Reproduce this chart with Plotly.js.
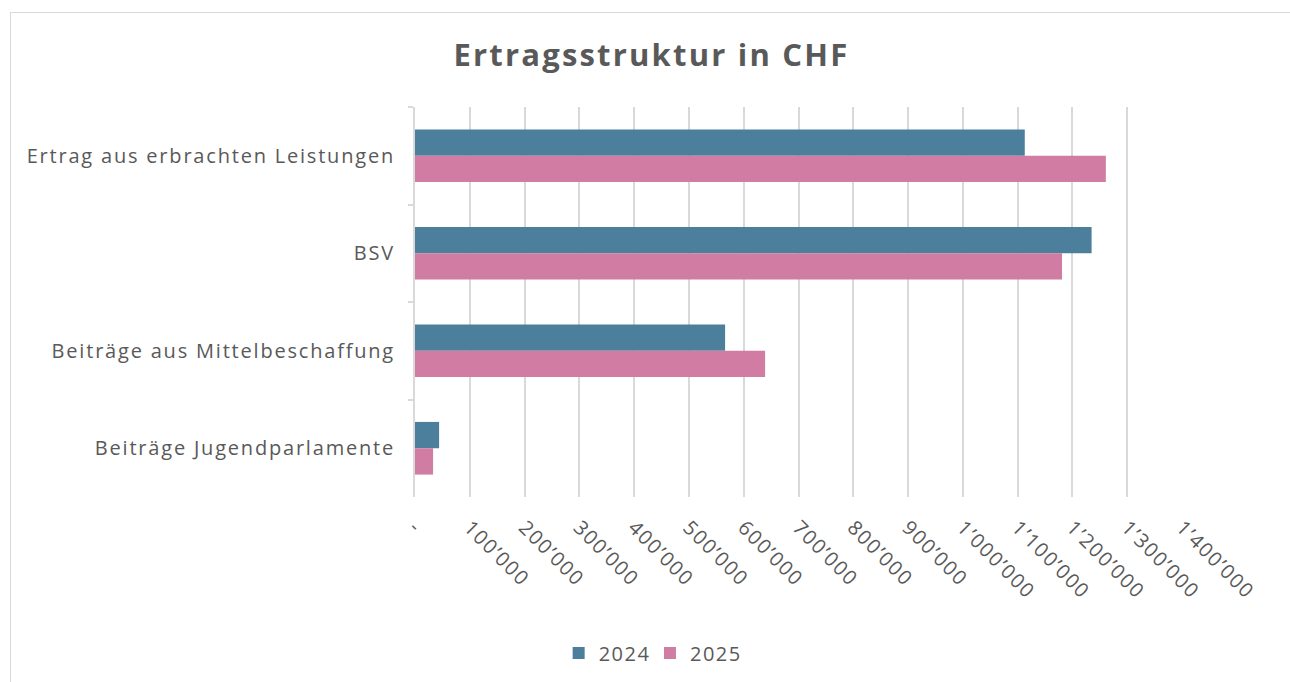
<!DOCTYPE html>
<html>
<head>
<meta charset="utf-8">
<script src="https://cdn.plot.ly/plotly-3.0.1.min.js"></script>
<style>
  html, body { margin:0; padding:0; background:#fff; }
  #chart { width:1290px; height:682px; position:absolute; left:0; top:0; }
  #frame { position:absolute; left:10px; top:12px; width:1290px; height:680px; border:1.5px solid #d9d9d9; pointer-events:none; }
  #chart .ytick text { letter-spacing:1.8px; }
  #chart .xtick text { letter-spacing:1.5px; }
  #chart .legendtext { letter-spacing:1.5px; }
  #chart .gtitle { letter-spacing:2.2px; }
</style>
</head>
<body>
<div id="chart"></div>
<div id="frame"></div>
<script>
const categories = ["Ertrag aus erbrachten Leistungen", "BSV", "Beiträge aus Mittelbeschaffung", "Beiträge Jugendparlamente"];
const series2024 = [1113000, 1235000, 566000, 44000];
const series2025 = [1261000, 1181000, 639000, 33000];
const tickValues = [0,100000,200000,300000,400000,500000,600000,700000,800000,900000,1000000,1100000,1200000,1300000,1400000];
const tickLabels = ["-","100’000","200’000","300’000","400’000","500’000","600’000","700’000","800’000","900’000","1’000’000","1’100’000","1’200’000","1’300’000","1’400’000"];

const fontFam = "'Open Sans', Lato, sans-serif";
const textCol = "#595959";

const traces = [
  {type:"bar", orientation:"h", name:"2024", y:categories, x:series2024,
   marker:{color:"#4b7f9c"}, hoverinfo:"x+name"},
  {type:"bar", orientation:"h", name:"2025", y:categories, x:series2025,
   marker:{color:"#d07ca3"}, hoverinfo:"x+name"}
];

const layout = {
  width:1290, height:682,
  paper_bgcolor:"rgba(0,0,0,0)", plot_bgcolor:"#fff",
  margin:{l:415, r:108, t:107, b:185},
  barmode:"group", bargap:0.46, bargroupgap:0,
  title:{text:"<b>Ertragsstruktur in CHF</b>", font:{family:fontFam, size:31, color:textCol},
         x:0.505, xref:"container", xanchor:"center", y:0.919, yref:"container", yanchor:"middle"},
  xaxis:{range:[0,1400000], tickvals:tickValues, ticktext:tickLabels, tickangle:45,
         showgrid:true, gridcolor:"#d9d9d9", gridwidth:2, zeroline:false, showline:false,
         ticks:"", tickfont:{family:fontFam, size:20, color:textCol}, ticklabelstandoff:14},
  yaxis:{autorange:"reversed", showline:true, linecolor:"#d9d9d9", linewidth:2,
         ticks:"outside", tickson:"boundaries", ticklen:5, tickcolor:"#d9d9d9", tickwidth:2,
         showgrid:false, tickfont:{family:fontFam, size:20, color:textCol}, ticklabelstandoff:14},
  legend:{orientation:"h", xref:"container", x:0.504, xanchor:"center", yref:"container", y:0.0425, yanchor:"middle",
          font:{family:fontFam, size:20, color:textCol}, itemwidth:30, traceorder:"normal"},
  showlegend:true
};

Plotly.newPlot("chart", traces, layout, {displayModeBar:false, staticPlot:true});
</script>
</body>
</html>
